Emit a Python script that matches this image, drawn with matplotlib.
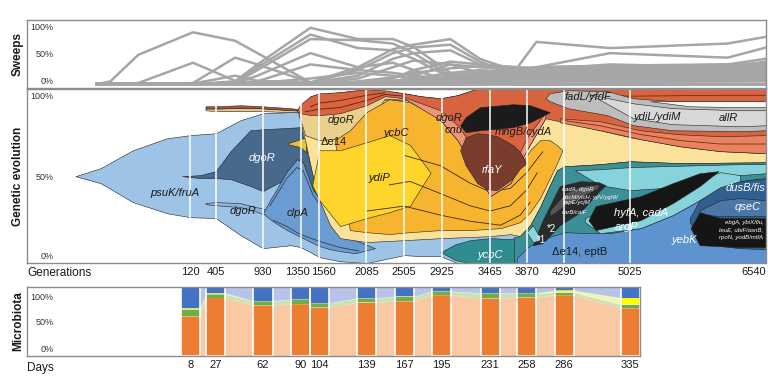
import matplotlib.pyplot as plt
from matplotlib.transforms import ScaledTranslation

plt.rcParams['font.family'] = ['Liberation Sans', 'DejaVu Sans']

# sampling points (generations) and matching microbiota days
sample_gens = [120, 405, 930, 1350, 1560, 2085, 2505, 2925, 3465, 3870, 4290, 5025]
gen_ticks = [120, 405, 930, 1350, 1560, 2085, 2505, 2925, 3465, 3870, 4290, 5025, 6540]
days = [8, 27, 62, 90, 104, 139, 167, 195, 231, 258, 286, 335]

# sweeps: allele frequencies at sequencing points
sweep_gens = [-920, -770, -460, 150, 620, 870, 1460, 1990, 2380, 2610, 3020, 3350, 3770, 3980, 4800, 6110, 6540]
sweep_freqs = [
    [0, .05, .52, .92, .77, .55, .03, 0, 0, 0, 0, 0, 0, 0, 0, 0, 0],
    [0, 0, .02, .38, .06, .03, .01, 0, 0, 0, 0, 0, 0, 0, 0, 0, 0],
    [0, 0, 0, .02, .47, .35, .03, 0, 0, 0, 0, 0, 0, 0, 0, 0, 0],
    [0, 0, 0, .01, .15, .06, .02, 0, 0, 0, 0, 0, 0, 0, 0, 0, 0],
    [0, 0, 0, 0, .05, .35, 1.0, .8, .8, .66, .2, .07, 0, 0, 0, 0, 0],
    [0, 0, 0, 0, .03, .3, .88, .64, .6, .45, .12, .04, 0, 0, 0, 0, 0],
    [0, 0, 0, 0, .02, .25, .8, .78, .72, .55, .15, .05, 0, 0, 0, 0, 0],
    [0, 0, 0, 0, .02, .15, .55, .3, .38, .25, .06, .02, 0, 0, 0, 0, 0],
    [0, 0, 0, 0, 0, .02, .03, .3, .62, .7, .8, .45, .22, .15, .1, .08, .1],
    [0, 0, 0, 0, 0, .01, .02, .25, .55, .65, .7, .4, .15, .1, .08, .1, .15],
    [0, 0, 0, 0, 0, 0, .02, .15, .45, .55, .6, .35, .2, .12, .1, .12, .2],
    [0, 0, 0, 0, 0, 0, 0, .02, .1, .25, .4, .35, .3, .75, .64, .72, .84],
    [0, 0, 0, 0, 0, 0, 0, 0, .05, .1, .2, .25, .2, .3, .55, .47, .65],
    [0, 0, 0, 0, 0, 0, 0, 0, .02, .05, .1, .15, .2, .25, .35, .3, .4],
    [0, 0, 0, 0, 0, 0, 0, 0, 0, .02, .05, .1, .2, .22, .3, .35, .45],
    [0, 0, 0, 0, 0, 0, 0, 0, .01, .03, .08, .12, .15, .2, .25, .3, .35],
    [0, 0, 0, 0, 0, 0, 0, 0, 0, 0, .02, .05, .1, .15, .2, .25, .3],
    [0, 0, 0, 0, 0, 0, 0, 0, 0, .01, .03, .08, .12, .18, .22, .18, .25],
    [0, 0, 0, 0, 0, 0, 0, 0, 0, 0, 0, .03, .08, .1, .15, .2, .22],
    [0, 0, 0, 0, 0, 0, 0, 0, 0, 0, .01, .02, .05, .08, .12, .15, .18],
    [0, 0, 0, 0, 0, 0, 0, 0, 0, 0, 0, 0, .03, .05, .1, .12, .15],
    [0, 0, 0, 0, 0, 0, 0, 0, 0, 0, 0, .01, .02, .04, .06, .1, .12],
    [0, 0, 0, 0, 0, 0, 0, 0, .02, .15, .35, .3, .25, .2, .18, .22, .3],
    [0, 0, 0, 0, 0, 0, .01, .1, .3, .42, .35, .2, .15, .12, .15, .18, .25],
    [0, 0, 0, 0, 0, .02, .1, .2, .15, .1, .05, .03, .02, 0, 0, 0, 0],
    [0, 0, 0, 0, .01, .05, .35, .25, .2, .15, .08, .05, .03, .05, .1, .15, .2],
    [0, 0, 0, 0, 0, 0, 0, .05, .12, .2, .28, .32, .3, .28, .25, .28, .32],
    [0, 0, 0, 0, 0, 0, 0, 0, .04, .08, .15, .22, .26, .3, .32, .33, .38],
    [0, 0, 0, 0, 0, 0, 0, 0, 0, .03, .06, .1, .18, .24, .28, .25, .28],
    [0, 0, 0, 0, 0, 0, 0, 0, 0, 0, .02, .06, .14, .18, .2, .22, .2],
    [0, 0, 0, 0, 0, 0, 0, 0, 0, 0, 0, .02, .06, .12, .16, .14, .16],
    [0, 0, 0, 0, 0, 0, 0, 0, 0, 0, 0, 0, .02, .06, .08, .06, .08],
    [0, 0, 0, 0, 0, 0, 0, .02, .06, .1, .12, .18, .24, .2, .14, .1, .1],
    [0, 0, 0, 0, 0, 0, 0, 0, .03, .06, .1, .16, .1, .08, .04, .05, .06],
    [0, 0, 0, 0, 0, 0, 0, 0, 0, .04, .12, .2, .28, .3, .33, .35, .36],
    [0, 0, 0, 0, 0, 0, 0, 0, 0, 0, .06, .14, .22, .27, .3, .31, .34],
    [0, 0, 0, 0, 0, 0, 0, 0, 0, 0, .04, .1, .18, .2, .26, .27, .29],
    [0, 0, 0, 0, 0, 0, 0, 0, 0, 0, .03, .08, .16, .2, .22, .24, .26],
    [0, 0, 0, 0, 0, 0, 0, 0, 0, .02, .05, .12, .2, .18, .18, .2, .23],
    [0, 0, 0, 0, 0, 0, 0, 0, 0, 0, .02, .06, .1, .14, .17, .19, .21],
    [0, 0, 0, 0, 0, 0, 0, 0, 0, 0, 0, .04, .08, .12, .13, .16, .19],
    [0, 0, 0, 0, 0, 0, 0, 0, 0, 0, 0, .03, .07, .1, .11, .13, .14],
    [0, 0, 0, 0, 0, 0, 0, 0, 0, 0, .02, .05, .06, .08, .09, .11, .1],
    [0, 0, 0, 0, 0, 0, 0, 0, 0, 0, 0, .02, .04, .05, .07, .08, .07],
    [0, 0, 0, 0, 0, 0, 0, 0, .02, .06, .12, .2, .24, .26, .24, .22, .27],
    [0, 0, 0, 0, 0, 0, 0, 0, 0, 0, .05, .16, .26, .24, .2, .24, .31],
]

# Muller plot clones: generations, lower / upper bound in % of population
psuk_x = [-1160, -880, -520, -140, 120, 405, 680, 930, 1240, 1350, 1460, 1560, 1790, 2085, 2505, 2690, 2910, 3100, 3300, 6540]
psuk_hi = [50, 54.6, 64.9, 71.8, 73.6, 74.7, 82.2, 86.2, 86.8, 87.4, 96.0, 97.1, 98.3, 100, 97.7, 96.0, 94.8, 96.6, 100, 100]
psuk_lo = [50, 46.0, 35.1, 28.7, 26.4, 25.9, 16.1, 8.6, 10.3, 9.2, 6.3, 3.4, 1.1, 0, 4.6, 4.0, 4.0, 0, 0, 0]

strip_x = [290, 405, 680, 930, 1240, 1350]
strip_hi = [90.2, 90.2, 90.8, 90.2, 89.1, 88.5]
strip_mid = [89.0, 88.9, 89.3, 89.0, 88.0, 87.7]
strip_lo = [87.9, 87.4, 87.4, 87.4, 86.8, 86.8]

red_x = [1310, 1350, 1460, 1560, 1790, 2085, 2290, 2505, 2690, 2910, 3100, 3300, 3465, 3690, 3870, 4080, 4290, 4690, 5025, 5580, 6030, 6540]
red_hi = [87.9, 91.4, 96.0, 97.7, 98.3, 100, 99.4, 97.7, 96.0, 94.8, 96.6, 100, 100, 100, 100, 100, 100, 100, 100, 100, 100, 100]
red_lo = [87.4, 86.2, 85.1, 85.1, 86.2, 90.8, 96.0, 94.8, 90.2, 82.2, 70.7, 53.4, 38.5, 46.0, 64.9, 83.3, 81.0, 76.4, 72.4, 67.2, 64.4, 63.2]

# stripes of smaller clones inside the red lineage
redln1_x = [1460, 1560, 1790, 2085, 2290]
redln1_y = [90.0, 92.0, 93.5, 96.5, 98.0]
redln2_x = [1400, 1560, 1790, 2085, 2290, 2505]
redln2_y = [87.0, 88.5, 89.5, 93.5, 97.0, 96.0]
redln3_x = [4290, 4690, 5025, 5580, 6030, 6540]
redln3_y = [97.5, 96.5, 96.0, 96.3, 96.5, 96.5]

salmon1_x = [2505, 2910, 3100, 3300, 3465, 3690, 3870, 4080]
salmon1_hi = [95.5, 87.9, 79.3, 64.9, 44.8, 52.3, 71.8, 86.8]
salmon1_lo = [94.8, 82.2, 70.7, 53.4, 38.5, 46.0, 64.9, 83.3]

salmon2_x = [4240, 4690, 5140, 5580, 6030, 6540]
salmon2_hi = [83.3, 81.6, 76.4, 74.1, 73.0, 73.6]
salmon2_lo = [81.0, 76.4, 71.3, 67.2, 64.4, 63.2]
salmonln_x = [4290, 4690, 5140, 5580, 6030, 6540]
salmonln_y = [82.0, 79.0, 74.0, 70.5, 68.5, 68.5]

rfay_x = [3130, 3190, 3320, 3430, 3540, 3720, 3800, 3870]
rfay_hi = [64.9, 72.4, 74.7, 74.1, 73.0, 67.8, 63.8, 57.5]
rfay_lo = [64.9, 56.3, 46.0, 42.5, 42.0, 48.9, 54.6, 57.5]

cnu_x = [3130, 3190, 3350, 3720, 3910, 4130]
cnu_hi = [79.3, 83.9, 89.7, 91.4, 90.8, 86.8]
cnu_lo = [79.3, 75.3, 76.4, 78.2, 81.0, 86.8]

fadl_x = [4080, 4130, 4330, 4770, 5060, 5500, 6250, 6540]
fadl_hi = [94.8, 97.7, 99.4, 98.9, 94.8, 93.1, 93.1, 93.1]
fadl_lo = [94.8, 93.1, 89.1, 85.1, 79.3, 76.4, 75.9, 76.4]

ydil_x = [4580, 5060, 5500, 6250, 6540]
ydil_hi = [97.0, 91.9, 89.1, 87.9, 87.9]
ydil_lo = [97.0, 83.3, 79.9, 78.7, 79.3]

allr_x = [5250, 5690, 6250, 6540]
allr_hi = [93.1, 93.1, 93.1, 93.1]
allr_lo = [93.1, 90.2, 89.7, 89.7]

yel_x = [1320, 1400, 1460, 1510, 1560, 1680, 1790, 2085, 2505, 2925, 3465, 3690, 3800, 3910, 4020, 4130, 4210, 4290, 4690, 5025, 5580, 6540]
yel_hi = [87.4, 89.0, 94, 94, 94, 94, 94, 94, 94, 94, 94, 94, 94, 94, 94, 94, 94, 94, 94, 94, 94, 94]
yel_lo = [87.4, 70.7, 56.3, 44.8, 36.2, 21.8, 14.4, 12.1, 13.2, 14.4, 15.5, 16.7, 15.5, 21.8, 32.2, 44.8, 53.4, 55.7, 56.9, 58.6, 57.5, 58.0]

tan_x = [1320, 1400, 1560, 1790, 2085, 2290, 2505, 2760]
tan_hi = [87.4, 90, 92, 92, 94, 96.5, 95.5, 91]
tan_lo = [87.4, 73.6, 70.7, 71.8, 79.3, 94.5, 94.0, 90.5]

ycbc_x = [1730, 1900, 2085, 2340, 2570, 2910, 3240, 3580, 3800, 3910, 4020, 4130, 4210, 4270]
ycbc_hi = [70.7, 76.4, 86.8, 94.3, 92.5, 83.3, 64.9, 47.7, 56.3, 64.9, 70.7, 70.7, 67.8, 64.9]
ycbc_lo = [70.7, 19.0, 17.8, 16.7, 17.8, 19.0, 19.0, 20.1, 23.6, 29.3, 37.4, 48.9, 57.5, 64.9]

ydip_x = [1480, 1560, 1790, 2085, 2340, 2570, 2800]
ydip_hi = [44.8, 64.9, 64.9, 69.5, 73.6, 68.0, 52.0]
ydip_lo = [44.8, 36.2, 21.3, 25.9, 29.3, 33.0, 52.0]

# clone boundaries inside the ycbC lineage
yline1_x = [2085, 2505, 2910, 3240, 3580, 3800, 3910]
yline1_y = [29.9, 32.8, 27.6, 24.1, 21.8, 27.6, 35.0]
yline2_x = [2340, 2570, 2910, 3240, 3465, 3690, 3870, 3990]
yline2_y = [45.0, 47.0, 40.0, 33.0, 30.0, 33.0, 42.0, 52.0]
yline3_x = [2505, 2910, 3240, 3465, 3690, 3870, 4050]
yline3_y = [62.0, 56.0, 46.0, 41.0, 43.0, 52.0, 64.0]

e14_x = [1210, 1350, 1410]
e14_hi = [69.0, 71.3, 72.4]
e14_lo = [68.4, 66.7, 63.8]

dgor_x = [30, 230, 405, 570, 790, 930, 1160, 1350, 1460, 1550]
dgor_hi = [50, 50.6, 52.9, 64.4, 76.4, 77.0, 77.6, 78.2, 56.3, 36.2]
dgor_lo = [50, 48.9, 48.9, 48.3, 44.3, 41.4, 47.7, 60.3, 44.8, 36.2]

dgor2_x = [290, 405, 680, 845, 930, 990]
dgor2_hi = [34.5, 35.1, 34.5, 32.2, 31.6, 29.3]
dgor2_lo = [33.9, 33.3, 32.2, 29.9, 28.2, 29.3]

clpa_x = [930, 1010, 1090, 1200, 1310, 1380, 1490, 1560, 1680, 1790, 1960, 2180]
clpa_hi = [28.7, 36.2, 43.1, 52.9, 59.8, 57.5, 42.0, 37.4, 23.6, 15.5, 13.2, 8.6]
clpa_lo = [28.7, 25.3, 22.4, 19.0, 16.1, 14.4, 11.5, 9.8, 8.0, 6.9, 5.7, 8.6]

# sub-clones inside clpA
clpln1_x = [1010, 1200, 1310, 1380, 1490, 1560]
clpln1_y = [33.0, 49.0, 55.0, 53.0, 39.0, 34.0]
clpln2_x = [1050, 1200, 1310, 1400, 1560, 1790, 2000]
clpln2_y = [24.5, 21.0, 17.5, 15.5, 12.5, 9.0, 7.0]

tealb_x = [2910, 3080, 3240, 3465, 3690, 3860]
tealb_hi = [6.3, 10.9, 13.2, 14.4, 13.8, 15.5]
tealb_lo = [6.3, 1.7, 0, 0, 0, 0]

teal_x = [3730, 3790, 3910, 4020, 4130, 4210, 4290, 4690, 5025, 5580, 6540]
teal_hi = [14.9, 15.5, 21.8, 32.2, 44.8, 53.4, 55.7, 56.9, 58.6, 57.5, 58.0]
teal_lo = [0, 0, 0, 0, 0, 0, 0, 0, 0, 0, 0]

cyan1_x = [4410, 4690, 5025, 5360, 5800, 6250, 6540]
cyan1_hi = [53.4, 54.0, 55.2, 55.7, 56.3, 56.9, 56.9]
cyan1_lo = [53.4, 44.8, 42.0, 43.1, 47.7, 50.6, 51.7]

cyan2_x = [4520, 4690, 5140, 5500, 5800, 6030, 6250]
cyan2_hi = [25.9, 29.3, 33.3, 40.2, 47.7, 52.3, 50.6]
cyan2_lo = [23.6, 17.2, 20.1, 27.6, 36.2, 43.1, 47.1]

eptb_x = [3760, 3870, 3970, 4080, 4300, 4580, 4800, 5140, 5500, 5800, 6030, 6250, 6540]
eptb_hi = [2.9, 8.6, 12.1, 14.4, 17.8, 17.2, 17.2, 20.1, 27.6, 36.2, 43.1, 47.1, 48.9]
eptb_lo = [0, 0, 0, 0, 0, 0, 0, 0, 0, 0, 0, 0, 0]

hyfa_x = [4560, 4640, 5140, 5500, 5800, 6010]
hyfa_hi = [24.7, 32.8, 38.5, 46.0, 51.7, 52.9]
hyfa_lo = [24.7, 19.0, 24.7, 34.5, 44.3, 52.9]

cada_x = [3940, 4050, 4240, 4470, 4670, 4750]
cada_hi = [10.3, 24.7, 44.3, 47.1, 46.6, 44.8]
cada_lo = [10.3, 11.5, 21.8, 29.3, 40.8, 44.8]

cadg_x = [4130, 4300, 4470, 4670]
cadg_hi = [30.5, 40.2, 44.3, 45.4]
cadg_lo = [27.0, 33.3, 37.9, 43.1]

star1_x = [3870, 3940, 4020]
star1_hi = [17.8, 21.8, 14.4]
star1_lo = [17.8, 12.1, 13.2]

dusb_x = [5690, 5800, 6030, 6250, 6540]
dusb_hi = [25.9, 36.2, 43.7, 47.1, 48.9]
dusb_lo = [23.6, 13.2, 9.8, 8.6, 8.0]

qsec_x = [5800, 6030, 6250, 6540]
qsec_hi = [30.5, 36.2, 37.4, 36.2]
qsec_lo = [28.2, 27.0, 27.0, 27.0]

ebga_x = [5700, 5800, 6030, 6250, 6540]
ebga_hi = [20.1, 29.3, 25.9, 25.9, 25.9]
ebga_lo = [20.1, 10.3, 9.8, 9.2, 9.2]

# microbiota composition at each sampling day (fractions)
micro_orange = [0.58, 0.85, 0.74, 0.76, 0.71, 0.78, 0.80, 0.89, 0.84, 0.855, 0.89, 0.70]
micro_green = [0.10, 0.05, 0.06, 0.065, 0.06, 0.06, 0.065, 0.05, 0.075, 0.06, 0.035, 0.05]
micro_yellow = [0.02, 0.015, 0.005, 0.005, 0.005, 0.005, 0.005, 0.005, 0.005, 0.005, 0.03, 0.10]
micro_blue = [0.30, 0.085, 0.195, 0.17, 0.225, 0.155, 0.13, 0.055, 0.08, 0.08, 0.045, 0.15]

fig = plt.figure(figsize=(7.68, 3.83), dpi=100)
ax_s = fig.add_axes([0.0352, 0.770, 0.9622, 0.178])
ax_g = fig.add_axes([0.0352, 0.313, 0.9622, 0.454])
ax_m = fig.add_axes([0.0352, 0.070, 0.7982, 0.180])

frame = '#8c8c8c'
txt = '#1a1a1a'


def shift(lbl, dx, dy):
    lbl.set_transform(lbl.get_transform() + ScaledTranslation(dx / 100, dy / 100, fig.dpi_scale_trans))


def style_axis(ax, ticks, dys):
    for sp in ax.spines.values():
        sp.set_color(frame)
        sp.set_linewidth(1.0)
    ax.set_yticks(ticks)
    ax.set_yticklabels(['0%', '50%', '100%'])
    ax.tick_params(axis='y', length=0, pad=-19, labelsize=6.5, labelcolor='#333333')
    for lbl, dy in zip(ax.get_yticklabels(), dys):
        shift(lbl, 0, dy)


# --- sweeps
for f in sweep_freqs:
    ax_s.plot(sweep_gens, f, color='#a6a6a6', lw=1.8)
ax_s.set_xlim(-1700, 6540)
ax_s.set_ylim(-0.07, 1.14)
ax_s.set_xticks([])
style_axis(ax_s, [0, 0.5, 1], [4, 2, 1])

# --- Muller plot
layers = [
    (psuk_x, psuk_lo, psuk_hi, '#9dc3e6'),
    (strip_x, strip_lo, strip_mid, '#e2c48c'),
    (strip_x, strip_mid, strip_hi, '#a8553c'),
    (dgor_x, dgor_lo, dgor_hi, '#46698c'),
    (dgor2_x, dgor2_lo, dgor2_hi, '#8ab5dd'),
    (clpa_x, clpa_lo, clpa_hi, '#6b9cd1'),
    (e14_x, e14_lo, e14_hi, '#f2c12e'),
    (yel_x, yel_lo, yel_hi, '#fbe29a'),
    (tan_x, tan_lo, tan_hi, '#ead08c'),
    (ycbc_x, ycbc_lo, ycbc_hi, '#f7b52f'),
    (ydip_x, ydip_lo, ydip_hi, '#ffd42b'),
    (red_x, red_lo, red_hi, '#d8633f'),
    (salmon1_x, salmon1_lo, salmon1_hi, '#ee9477'),
    (salmon2_x, salmon2_lo, salmon2_hi, '#e8825f'),
    (rfay_x, rfay_lo, rfay_hi, '#7a3d2d'),
    (cnu_x, cnu_lo, cnu_hi, '#1b1b1b'),
    (fadl_x, fadl_lo, fadl_hi, '#bdbdbd'),
    (ydil_x, ydil_lo, ydil_hi, '#d8d8d8'),
    (allr_x, allr_lo, allr_hi, '#f6f6f6'),
    (tealb_x, tealb_lo, tealb_hi, '#2f8c8f'),
    (teal_x, teal_lo, teal_hi, '#3c8f94'),
    (cyan1_x, cyan1_lo, cyan1_hi, '#86d3dc'),
    (eptb_x, eptb_lo, eptb_hi, '#5d93cf'),
    (cyan2_x, cyan2_lo, cyan2_hi, '#86d3dc'),
    (hyfa_x, hyfa_lo, hyfa_hi, '#161616'),
    (cada_x, cada_lo, cada_hi, '#2a2a2a'),
    (cadg_x, cadg_lo, cadg_hi, '#555555'),
    (star1_x, star1_lo, star1_hi, '#8fd5de'),
    (dusb_x, dusb_lo, dusb_hi, '#305f90'),
    (qsec_x, qsec_lo, qsec_hi, '#4a77a6'),
    (ebga_x, ebga_lo, ebga_hi, '#151515'),
]
# boundary lines drawn right after the layer they sit in
inner_lines = {
    5: [(clpln1_x, clpln1_y, '#2a3f5a'), (clpln2_x, clpln2_y, '#2a3f5a')],
    10: [(yline1_x, yline1_y, '#3a2a10'), (yline2_x, yline2_y, '#3a2a10'), (yline3_x, yline3_y, '#3a2a10')],
    11: [(redln1_x, redln1_y, '#5a2014'), (redln2_x, redln2_y, '#5a2014'), (redln3_x, redln3_y, '#7a2a18')],
    13: [(salmonln_x, salmonln_y, '#7a2a18')],
}
for i, (x, lo, hi, c) in enumerate(layers):
    z = 1 + i * 0.01
    ax_g.fill_between(x, lo, hi, facecolor=c, edgecolor='#222222', linewidth=0.4, zorder=z)
    for lx, ly, lc in inner_lines.get(i, []):
        ax_g.plot(lx, ly, color=lc, lw=0.6, zorder=z + 0.005)

for g in sample_gens:
    ax_g.axvline(g, color='white', lw=1.3, alpha=0.85, zorder=2)

ax_g.set_xlim(-1700, 6540)
ax_g.set_ylim(0, 100)
style_axis(ax_g, [0, 50, 100], [8, 0, -6])
ax_g.set_xticks(gen_ticks)
ax_g.set_xticklabels([str(g) for g in gen_ticks])
ax_g.tick_params(axis='x', length=0, pad=3, labelsize=8, labelcolor=txt)
xl = ax_g.get_xticklabels()
xl[-1].set_ha('right')
shift(xl[3], -3, 0)
shift(xl[4], 4, 0)

labels = [
    (-50, 40.2, 'psuK/fruA', txt, 8, 'italic'),
    (920, 60.3, 'dgoR', 'white', 8, 'italic'),
    (710, 29.9, 'dgoR', txt, 8, 'italic'),
    (1320, 28.7, 'clpA', txt, 8, 'italic'),
    (1800, 82.2, 'dgoR', txt, 8, 'italic'),
    (1720, 69.5, '\u0394e14', txt, 8, 'normal'),
    (2230, 48.9, 'ydiP', txt, 8, 'italic'),
    (2420, 74.7, 'ycbC', txt, 8, 'italic'),
    (3000, 83.3, 'dgoR', txt, 8, 'italic'),
    (3060, 76.4, 'cnu', txt, 8, 'italic'),
    (3840, 75.3, 'mngB/cydA', txt, 8, 'italic'),
    (3480, 53.4, 'rfaY', 'white', 8, 'italic'),
    (3465, 4.6, 'ycbC', 'white', 8, 'italic'),
    (4560, 95.4, 'fadL/yfdF', txt, 8, 'italic'),
    (5330, 83.9, 'ydiL/ydiM', txt, 8, 'italic'),
    (6120, 83.3, 'allR', txt, 8, 'italic'),
    (5150, 28.7, 'hyfA, cadA', 'white', 8, 'italic'),
    (4990, 20.7, 'argP', 'white', 8, 'italic'),
    (4460, 6.3, '\u0394e14, eptB', txt, 8, 'normal'),
    (5630, 13.2, 'yebK', 'white', 8, 'italic'),
    (6310, 43.1, 'dusB/fis', 'white', 8, 'italic'),
    (6340, 32.2, 'qseC', 'white', 8, 'italic'),
    (4145, 19.5, '*2', 'white', 7, 'normal'),
    (4034, 13.2, '*1', 'white', 7, 'normal'),
]
for x, y, s, c, fs, st in labels:
    ax_g.text(x, y, s, color=c, fontsize=fs, style=st, ha='center', va='center', zorder=3)

small = [
    (4268, 42.5, 'cadA, dgoR'),
    (4268, 37.9, 'ybcM/ylcH, yjiV/ygiW'),
    (4268, 35.1, 'pspE/ycjM'),
    (4268, 29.3, 'carB/caiF'),
]
for x, y, s in small:
    ax_g.text(x, y, s, color='white', fontsize=4.3, style='italic', ha='left', va='center', zorder=3)
for y, s in [(23.6, 'ebgA, ybiX/fiu,'), (19.0, 'leuE, ubiF/asnB,'), (14.9, 'rpoN, yodB/mtfA')]:
    ax_g.text(6540 - 30, y, s, color='white', fontsize=4.3, style='italic', ha='right', va='center', zorder=3)

# --- microbiota
w = 215
edges_x = []
for g in sample_gens:
    edges_x += [g - w / 2, g + w / 2]

pale = ['#f9c9a3', '#c9e2b6', '#f4f5b5', '#b7c3ea']
solid = ['#ed7d31', '#70ad47', '#ffff00', '#4472c4']
series = [micro_orange, micro_green, micro_yellow, micro_blue]
base = [0.0] * len(sample_gens)
for vals, pc, sc in zip(series, pale, solid):
    top = [b + v for b, v in zip(base, vals)]
    lo2 = [b for b in base for _ in (0, 1)]
    hi2 = [t for t in top for _ in (0, 1)]
    ax_m.fill_between(edges_x, lo2, hi2, color=pc, lw=0)
    ax_m.bar(sample_gens, vals, width=w, bottom=base, color=sc, edgecolor='none')
    base = top
ax_m.bar(sample_gens, [1.0] * len(sample_gens), width=w, fill=False, edgecolor='white', lw=1.2)

ax_m.set_xlim(-1700, 5135)
ax_m.set_ylim(0, 1)
style_axis(ax_m, [0, 0.5, 1], [8, 0, -9])
ax_m.set_xticks(sample_gens)
ax_m.set_xticklabels([str(d) for d in days])
ax_m.tick_params(axis='x', length=0, pad=3, labelsize=8, labelcolor=txt)

fig.text(27 / 768, 1 - 273 / 383, 'Generations', fontsize=8.5, color=txt, va='center', ha='left')
fig.text(27 / 768, 1 - 368 / 383, 'Days', fontsize=8.5, color=txt, va='center', ha='left')
for y, s in [(54, 'Sweeps'), (176, 'Genetic evolution'), (321, 'Microbiota')]:
    fig.text(18 / 768, 1 - y / 383, s, rotation=90, fontsize=8.5, fontweight='bold',
             color=txt, va='center', ha='center')

fig.savefig('out.png', dpi=100)
